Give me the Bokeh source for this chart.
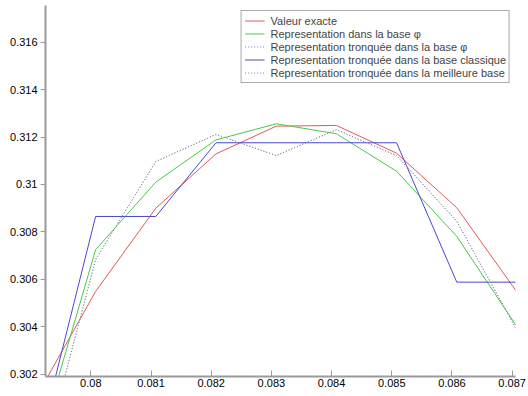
from bokeh.plotting import figure
from bokeh.models import FixedTicker, Range1d, Legend, LegendItem
from bokeh.embed import file_html
from bokeh.resources import INLINE

# data
x = [0.07908, 0.08008, 0.08108, 0.08208, 0.08308, 0.08408, 0.08508, 0.08608, 0.08708]
valeur_exacte = [0.30097, 0.30549, 0.30900, 0.31129, 0.31246, 0.31249, 0.31132, 0.30902, 0.30546]
base_phi = [0.29855, 0.30725, 0.31010, 0.31188, 0.31256, 0.31214, 0.31056, 0.30781, 0.30400]
tronq_phi = [0.29718, 0.30684, 0.31097, 0.31211, 0.31122, 0.31231, 0.31122, 0.30845, 0.30385]
tronq_classique = [0.29851, 0.30865, 0.30865, 0.31176, 0.31176, 0.31176, 0.31176, 0.30588, 0.30588]
tronq_meilleure = [0.29718, 0.30684, 0.31097, 0.31211, 0.31122, 0.31231, 0.31122, 0.30845, 0.30385]

x_ticks = [0.080, 0.081, 0.082, 0.083, 0.084, 0.085, 0.086, 0.087]
x_tick_labels = ["0.08", "0.081", "0.082", "0.083", "0.084", "0.085", "0.086", "0.087"]
y_ticks = [0.302, 0.304, 0.306, 0.308, 0.310, 0.312, 0.314, 0.316]
y_tick_labels = ["0.302", "0.304", "0.306", "0.308", "0.31", "0.312", "0.314", "0.316"]

labels = [
    "Valeur exacte",
    "Representation dans la base φ",
    "Representation tronquée dans la base φ",
    "Representation tronquée dans la base classique",
    "Representation tronquée dans la meilleure base",
]

p = figure(width=528, height=396, output_backend="svg", toolbar_location=None,
           x_range=Range1d(0.079247, 0.087056), y_range=Range1d(0.30190, 0.31755),
           min_border_left=45, min_border_right=13, min_border_top=5, min_border_bottom=20)
p.outline_line_color = None
p.xgrid.grid_line_color = None
p.ygrid.grid_line_color = None
p.background_fill_color = "white"
p.border_fill_color = "white"

font = "Liberation Sans"
p.xaxis.ticker = FixedTicker(ticks=x_ticks)
p.yaxis.ticker = FixedTicker(ticks=y_ticks)
p.xaxis.major_label_overrides = {t: l for t, l in zip(x_ticks, x_tick_labels)}
p.yaxis.major_label_overrides = {t: l for t, l in zip(y_ticks, y_tick_labels)}
for ax in (p.xaxis[0], p.yaxis[0]):
    ax.axis_line_color = "#9a9a9a"
    ax.axis_line_width = 2
    ax.major_tick_line_color = "#9a9a9a"
    ax.minor_tick_line_color = None
    ax.major_label_text_font = font
    ax.major_label_text_font_size = "11px"
    ax.major_label_text_color = "black"
p.xaxis.major_tick_in = 6
p.xaxis.major_tick_out = 0
p.xaxis.major_label_standoff = 2
p.yaxis.major_tick_in = 0
p.yaxis.major_tick_out = 5
p.yaxis.major_label_standoff = 3

r1 = p.line(x, valeur_exacte, line_color="#e05858", line_width=1)
r2 = p.line(x, base_phi, line_color="#48c848", line_width=1)
r3 = p.line(x, tronq_phi, line_color="#8080e0", line_width=1, line_dash="1 2")
r4 = p.line(x, tronq_classique, line_color="#4848d0", line_width=1)
r5 = p.line(x, tronq_meilleure, line_color="#8c8c8c", line_width=1, line_dash="1 2")

legend = Legend(items=[LegendItem(label=l, renderers=[r]) for l, r in zip(labels, [r1, r2, r3, r4, r5])],
                location="top_right")
legend.margin = 5
legend.padding = 3
legend.spacing = 0
legend.label_height = 13
legend.glyph_height = 13
legend.glyph_width = 20
legend.label_standoff = 6
legend.label_text_font = font
legend.label_text_font_size = "11px"
legend.label_text_line_height = 1.0
legend.border_line_color = "#555555"
legend.border_line_width = 1
legend.background_fill_alpha = 1.0
p.add_layout(legend)

open("out.html", "w").write(file_html(p, INLINE))
